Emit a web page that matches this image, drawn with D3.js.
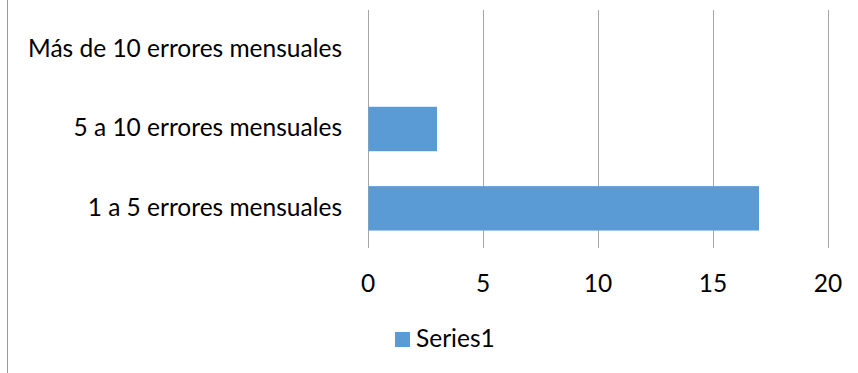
<!DOCTYPE html>
<html>
<head>
<meta charset="utf-8">
<script src="https://cdn.jsdelivr.net/npm/d3@7"></script>
<style>
  html, body { margin: 0; padding: 0; background: #fff; }
  svg { display: block; }
  text { font-family: Lato, "Open Sans", sans-serif; fill: #000; }
</style>
</head>
<body>
<svg id="chart" width="858" height="373"></svg>
<script>
// Error frequency categories, listed top to bottom
const categories = ["Más de 10 errores mensuales", "5 a 10 errores mensuales", "1 a 5 errores mensuales"];
const values = [0, 3, 17];
const xTicks = [0, 5, 10, 15, 20];
const seriesName = "Series1";

const barColor = "#5B9BD5";
const gridColor = "#A6A6A6";
const fontSize = 24.5;

const svg = d3.select("#chart");
const plot = { left: 368, right: 828, top: 10, bottom: 248 };

const x = d3.scaleLinear().domain([0, 20]).range([plot.left, plot.right]);
const y = d3.scaleBand().domain(categories).range([plot.top, plot.bottom])
  .paddingInner(0.44).paddingOuter(0.22);

// Outer frame edge on the left
svg.append("line")
  .attr("x1", 7.5).attr("x2", 7.5).attr("y1", 0).attr("y2", 373)
  .attr("stroke", "#9a9a9a").attr("stroke-width", 1);

// Vertical gridlines
svg.append("g").selectAll("line").data(xTicks).join("line")
  .attr("x1", d => Math.round(x(d)) + 0.5).attr("x2", d => Math.round(x(d)) + 0.5)
  .attr("y1", plot.top).attr("y2", plot.bottom)
  .attr("stroke", gridColor).attr("stroke-width", 1);

// Bars
svg.append("g").selectAll("rect").data(categories).join("rect")
  .attr("x", x(0) + 0.5)
  .attr("y", d => y(d))
  .attr("width", (d, i) => Math.max(0, x(values[i]) - x(0) - 0.5))
  .attr("height", y.bandwidth())
  .attr("fill", barColor);

// Category labels
svg.append("g").selectAll("text").data(categories).join("text")
  .attr("x", 342)
  .attr("y", d => y(d) + y.bandwidth() / 2)
  .attr("dy", "0.3em")
  .attr("text-anchor", "end")
  .attr("font-size", fontSize)
  .text(d => d);

// Value axis tick labels
svg.append("g").selectAll("text").data(xTicks).join("text")
  .attr("x", d => x(d))
  .attr("y", 291.5)
  .attr("text-anchor", "middle")
  .attr("font-size", fontSize)
  .text(d => d);

// Legend
const legend = svg.append("g");
legend.append("rect")
  .attr("x", 395).attr("y", 332).attr("width", 15).attr("height", 15)
  .attr("fill", barColor);
legend.append("text")
  .attr("x", 416).attr("y", 346.7)
  .attr("font-size", fontSize)
  .text(seriesName);
</script>
</body>
</html>
